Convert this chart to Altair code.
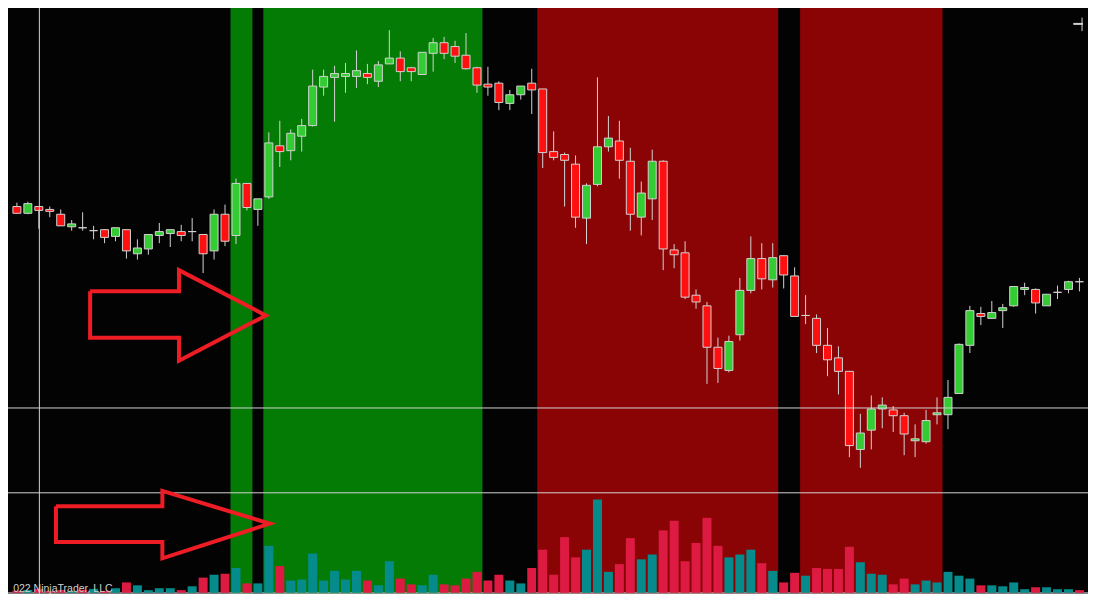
import altair as alt
import pandas as pd

# ---------------- data ----------------
opens = [4394, 4387, 4394, 4391, 4386, 4373, 4372, 4369, 4370, 4363,
         4370, 4345, 4350, 4364, 4366, 4368, 4368, 4365, 4348, 4386,
         4364, 4418, 4391, 4404, 4457, 4452, 4467, 4478, 4518, 4528,
         4529, 4529, 4532, 4524, 4542, 4548, 4538, 4531, 4553, 4564,
         4560, 4551, 4538, 4521, 4522, 4501, 4510, 4522, 4516, 4451,
         4448, 4438, 4382, 4417, 4456, 4462, 4441, 4383, 4402, 4441,
         4349, 4346, 4302, 4291, 4248, 4224, 4261, 4307, 4340, 4318,
         4343, 4322, 4281, 4278, 4250, 4237, 4223, 4142, 4162, 4184,
         4183, 4177, 4151, 4150, 4178, 4178, 4200, 4250, 4283, 4278,
         4286, 4291, 4308, 4308, 4291, 4305, 4308, 4316]
highs = [4398, 4399, 4394, 4394, 4391, 4380, 4388, 4374, 4370, 4372,
         4370, 4360, 4365, 4377, 4370, 4375, 4382, 4365, 4391, 4396,
         4423, 4418, 4402, 4471, 4483, 4474, 4485, 4536, 4536, 4540,
         4543, 4556, 4542, 4545, 4577, 4555, 4539, 4554, 4569, 4570,
         4566, 4574, 4539, 4539, 4524, 4515, 4519, 4537, 4516, 4472,
         4450, 4447, 4418, 4528, 4488, 4483, 4455, 4420, 4453, 4442,
         4355, 4358, 4308, 4295, 4258, 4260, 4320, 4363, 4356, 4356,
         4343, 4331, 4302, 4282, 4268, 4249, 4223, 4179, 4198, 4196,
         4187, 4180, 4168, 4183, 4196, 4214, 4252, 4291, 4290, 4296,
         4293, 4311, 4315, 4309, 4303, 4312, 4317, 4320]
lows = [4387, 4386, 4371, 4383, 4374, 4369, 4369, 4360, 4356, 4358,
        4340, 4339, 4344, 4356, 4352, 4358, 4358, 4325, 4339, 4353,
        4355, 4390, 4374, 4402, 4435, 4442, 4451, 4477, 4509, 4482,
        4512, 4517, 4521, 4518, 4542, 4524, 4524, 4531, 4534, 4547,
        4543, 4536, 4512, 4509, 4494, 4494, 4505, 4490, 4434, 4442,
        4394, 4372, 4355, 4415, 4451, 4423, 4369, 4364, 4380, 4328,
        4330, 4298, 4288, 4210, 4211, 4222, 4255, 4304, 4308, 4310,
        4309, 4280, 4272, 4242, 4218, 4199, 4134, 4123, 4142, 4164,
        4160, 4136, 4134, 4148, 4168, 4163, 4200, 4242, 4271, 4278,
        4268, 4290, 4302, 4283, 4291, 4298, 4304, 4306]
closes = [4387, 4397, 4390, 4389, 4374, 4376, 4372, 4369, 4362, 4372,
          4348, 4351, 4365, 4368, 4370, 4364, 4368, 4345, 4386, 4358,
          4418, 4393, 4402, 4460, 4451, 4470, 4478, 4519, 4529, 4532,
          4532, 4535, 4528, 4541, 4548, 4534, 4534, 4554, 4564, 4553,
          4550, 4537, 4520, 4518, 4502, 4510, 4519, 4515, 4450, 4445,
          4442, 4383, 4416, 4456, 4465, 4442, 4386, 4408, 4441, 4350,
          4344, 4300, 4295, 4248, 4226, 4254, 4307, 4340, 4319, 4341,
          4323, 4280, 4281, 4250, 4235, 4223, 4146, 4159, 4184, 4188,
          4177, 4158, 4153, 4172, 4180, 4196, 4251, 4286, 4280, 4284,
          4289, 4311, 4310, 4294, 4303, 4305, 4316, 4316]
volumes = [200, 300, 400, 200, 300, 200, 300, 400, 200,
           470, 1070, 770, 270, 470, 470, 270, 670, 1570, 1870,
           1970, 2570, 970, 970, 4870, 2770, 1270, 1370, 4070, 1270,
           2270, 1370, 2270, 1270, 770, 3270, 1470, 870, 770, 1870,
           870, 770, 1470, 2170, 1270, 1870, 1270, 970, 2570, 4470,
           1870, 5770, 3670, 4470, 9670, 2170, 2970, 5670, 3470, 3970,
           6470, 7470, 3270, 5170, 7770, 4870, 3670, 3970, 4470, 3070,
           2270, 1070, 2070, 1770, 2570, 2470, 2470, 4770, 3170, 1970,
           1870, 870, 1470, 870, 1270, 1070, 2170, 1770, 1470, 770,
           770, 670, 1070, 370, 570, 570, 370, 370, 270]
volume_dir = list("dudddududu" "duuuududud" "uduuduuuuu" "uuduudduud"
                  "ddddduuddd" "dduuudduud" "ddddduuudu" "ddudddduuu"
                  "dduuuuuudu" "uuuduuud")

# shaded regions (bar index ranges)
zone_start = [19.5, 22.5, 47.5, 71.5]
zone_end = [21.5, 42.5, 69.5, 84.5]
zone_kind = ["bull", "bull", "bear", "bear"]

# horizontal price lines and crosshair
hline_prices = [4185, 4097]
crosshair_index = [2.05]

# annotation arrows (bar index, price)
arrow_id = [1] * 8 + [2] * 8
arrow_x = [6.684, 14.795, 14.795, 22.727, 14.795, 14.795, 6.684, 6.684,
           3.565, 13.28, 13.28, 23.084, 13.28, 13.28, 3.565, 3.565]
arrow_y = [4306, 4306, 4328, 4281, 4234, 4258, 4258, 4306,
           4083, 4083, 4099, 4065, 4029, 4046, 4046, 4083]

copyright_text = ["022 NinjaTrader, LLC"]

# ---------------- chart ----------------
N = len(opens)
df = pd.DataFrame({"i": list(range(N)), "open": opens, "high": highs,
                   "low": lows, "close": closes, "volume": volumes,
                   "vdir": volume_dir})

xs = alt.Scale(domain=[-0.3565, 97.326], nice=False, zero=False)
ps = alt.Scale(domain=[3992, 4600], nice=False, zero=False)
vs = alt.Scale(domain=[-130, 60670], nice=False, zero=False)

X = alt.X("i:Q", scale=xs, axis=None)
GRAY = "#D2D2D2"

zones = pd.DataFrame({"start": zone_start, "end": zone_end, "kind": zone_kind})
shade = alt.Chart(zones).mark_rect(opacity=1).encode(
    x=alt.X("start:Q", scale=xs, axis=None), x2="end:Q",
    color=alt.condition("datum.kind == 'bull'", alt.value("#047B04"), alt.value("#8A0406")),
)

base = alt.Chart(df)

vol_line = alt.Chart(pd.DataFrame({"v": [-25]})).mark_rule(
    color="#A8A8A8", strokeWidth=1.5).encode(y=alt.Y("v:Q", scale=vs, axis=None))

vol = base.transform_calculate(v0="0").mark_bar(size=9).encode(
    x=X,
    y=alt.Y("volume:Q", scale=vs, axis=None),
    y2="v0:Q",
    color=alt.condition("datum.vdir == 'u'", alt.value("#058B8B"), alt.value("#DC1A42")),
)

wick = base.mark_rule(color=GRAY, strokeWidth=1).encode(
    x=X, y=alt.Y("high:Q", scale=ps, axis=None), y2="low:Q")

body = base.mark_bar(size=8, stroke=GRAY, strokeWidth=1, orient="vertical").encode(
    x=X,
    y=alt.Y("open:Q", scale=ps, axis=None),
    y2="close:Q",
    fill=alt.condition("datum.close > datum.open", alt.value("#33CC33"), alt.value("#FF1010")),
)

hlines = alt.Chart(pd.DataFrame({"p": hline_prices})).mark_rule(
    color=GRAY, strokeWidth=1).encode(y=alt.Y("p:Q", scale=ps, axis=None))

cross = alt.Chart(pd.DataFrame({"c": crosshair_index})).mark_rule(
    color=GRAY, strokeWidth=1).encode(x=alt.X("c:Q", scale=xs, axis=None))

arrows = alt.Chart(pd.DataFrame({"a": arrow_id, "o": list(range(len(arrow_x))),
                                 "x": arrow_x, "y": arrow_y})).mark_line(
    color="#EE1C25", strokeWidth=4, strokeJoin="miter", strokeMiterLimit=20).encode(
    x=alt.X("x:Q", scale=xs, axis=None),
    y=alt.Y("y:Q", scale=ps, axis=None),
    detail="a:N",
    order="o:Q",
)

label = alt.Chart(pd.DataFrame({"t": copyright_text, "x": [-0.34], "y": [3994.5]})).mark_text(
    align="left", baseline="alphabetic", fontSize=10.5, font="Liberation Sans",
    color="#CFCFCF").encode(
    x=alt.X("x:Q", scale=xs, axis=None),
    y=alt.Y("y:Q", scale=ps, axis=None),
    text="t:N",
)

cursor_h = alt.Chart(pd.DataFrame({"x1": [96.44], "x2": [97.32], "y": [4583.5]})).mark_rule(
    color=GRAY, strokeWidth=2).encode(
    x=alt.X("x1:Q", scale=xs, axis=None), x2="x2:Q",
    y=alt.Y("y:Q", scale=ps, axis=None))
cursor_v = alt.Chart(pd.DataFrame({"x": [97.24], "y1": [4590], "y2": [4576]})).mark_rule(
    color=GRAY, strokeWidth=1).encode(
    x=alt.X("x:Q", scale=xs, axis=None),
    y=alt.Y("y1:Q", scale=ps, axis=None), y2="y2:Q")

chart = alt.layer(
    shade, vol_line, vol, wick, body, hlines, cross, arrows, label, cursor_v, cursor_h
).resolve_scale(y="independent").properties(
    width=1080, height=586, padding=0, background="#030303",
    autosize=alt.AutoSizeParams(type="none"),
).configure_view(stroke=None)

chart.save("out.html", embed_options={"renderer": "svg", "actions": False})
